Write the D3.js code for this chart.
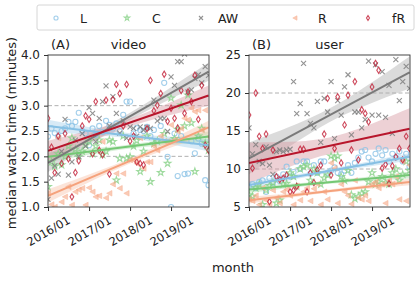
<!DOCTYPE html>
<html>
<head>
<meta charset="utf-8">
<script src="https://cdn.jsdelivr.net/npm/d3@7"></script>
<style>
  body { margin: 0; background: #fff; }
  text { font-family: "DejaVu Sans", sans-serif; fill: #222; }
</style>
</head>
<body>
<svg id="chart" width="420" height="281"></svg>
<script>
// monthly points, 2016/01 .. 2019/12
const months = d3.range(48).map(i => new Date(2016, i, 1));
const seriesNames = ["L", "C", "AW", "R", "fR"];
const xTickLabels = ["2016/01", "2017/01", "2018/01", "2019/01"];
const videoTicks = [1.0, 1.5, 2.0, 2.5, 3.0, 3.5, 4.0];
const userTicks = [5, 10, 15, 20, 25];

// (A) video
const videoL = [2.39,2.55,2.46,2.39,2.50,2.55,2.68,2.60,2.68,2.86,2.50,2.45,2.22,2.55,2.42,2.60,
  2.48,2.70,2.62,2.55,2.65,2.50,2.82,3.08,3.08,2.45,2.56,2.52,2.50,2.58,2.40,2.52,
  2.30,2.60,3.45,1.99,1.00,2.45,1.61,2.40,1.65,1.66,2.30,2.06,2.35,2.25,1.53,1.43];
const videoC = [1.40,1.89,1.80,2.05,1.83,1.99,2.20,2.36,2.14,2.00,2.10,2.22,2.30,2.05,2.20,2.32,
  2.03,2.10,2.32,2.29,1.53,1.96,2.40,1.96,1.99,2.20,2.31,1.70,2.10,2.40,1.50,2.25,
  2.30,1.68,2.45,1.86,3.15,2.35,2.53,3.01,2.60,3.21,2.66,1.70,2.40,2.55,2.26,2.12];
const videoAW = [1.15,1.57,1.81,1.65,2.10,2.73,1.63,1.89,2.32,2.00,2.45,2.20,2.96,2.85,2.29,2.75,
  3.08,3.39,2.60,3.18,2.85,2.46,2.70,2.36,2.58,2.55,2.40,2.58,2.52,2.57,2.55,3.11,
  2.70,2.75,2.75,2.49,3.57,3.40,3.87,3.87,4.02,3.27,3.31,3.54,3.61,3.45,3.77,3.60];
const videoR = [1.27,1.05,1.00,2.36,1.10,1.20,1.40,1.04,1.30,1.34,1.37,1.04,1.38,1.30,1.20,1.22,
  2.29,1.18,1.27,1.45,1.66,1.37,1.66,1.27,1.93,1.93,1.86,2.36,1.76,1.89,1.89,2.20,
  2.12,2.40,2.30,2.29,2.62,2.32,2.49,2.55,2.75,2.72,2.95,2.88,2.91,2.52,2.91,2.39];
const videoFR = [2.75,2.18,1.68,2.40,1.86,2.45,1.95,1.20,1.68,1.91,2.60,2.80,2.73,2.05,3.08,2.12,
  2.03,3.11,1.65,3.12,3.42,3.24,2.60,3.42,2.30,2.40,1.89,1.86,1.83,2.55,3.50,2.90,
  3.01,3.24,3.62,2.69,2.95,2.75,2.56,3.30,2.85,3.27,3.08,3.60,2.73,3.40,2.22,2.12];

// (B) user
const userL = [7.7,8.0,7.5,8.3,8.5,7.0,8.8,8.2,9.0,8.4,9.3,10.3,9.0,9.6,11.0,10.0,
  11.0,11.0,9.4,10.5,9.5,11.0,11.0,9.5,9.8,10.2,9.5,9.3,9.8,10.5,9.5,10.8,
  11.5,12.3,12.5,11.5,11.0,12.0,12.7,11.8,12.5,11.0,12.0,11.5,12.3,11.0,12.0,10.3];
const userC = [6.6,6.4,7.5,8.0,5.3,7.2,7.8,8.2,5.5,5.9,8.0,8.1,9.5,9.0,7.7,10.0,
  10.3,10.5,8.5,10.0,9.5,8.0,8.8,9.2,11.7,11.4,11.7,9.0,8.5,9.8,6.6,6.1,
  6.4,6.8,7.0,8.3,9.5,8.0,8.3,9.0,8.2,8.0,9.5,10.0,8.5,9.3,11.0,9.8];
const userAW = [15.4,12.0,13.2,11.0,10.7,12.9,10.5,9.3,12.3,12.5,12.3,12.5,12.6,21.5,17.3,18.6,
  23.9,17.3,16.0,15.4,18.9,13.5,19.3,17.5,21.5,14.0,19.0,17.1,20.8,22.4,14.5,17.5,
  17.5,15.4,16.5,24.2,17.1,23.7,17.1,22.8,16.8,21.0,14.7,24.4,19.0,21.5,23.5,20.6];
const userR = [6.0,5.8,6.5,5.3,7.5,5.9,5.3,7.2,6.2,5.5,7.0,7.3,6.5,5.3,7.8,5.9,
  7.0,7.5,5.8,7.4,8.0,5.3,7.0,6.0,10.8,10.1,5.5,8.0,7.0,6.5,5.4,8.5,
  6.2,6.0,6.5,5.8,8.0,8.3,7.5,8.0,5.5,8.5,8.0,9.0,6.0,11.0,5.8,10.5];
const userFR = [17.1,10.1,20.0,14.3,12.7,14.6,5.7,12.5,9.0,8.6,8.8,9.2,7.0,7.2,7.7,12.6,
  12.6,7.0,9.5,8.2,9.9,10.5,14.6,19.3,9.2,12.7,19.5,10.8,15.8,19.7,12.5,21.5,
  11.2,17.8,17.3,16.2,20.8,23.9,23.0,10.1,10.6,8.1,10.4,11.6,12.7,11.2,14.3,12.7];

// fitted trend lines (first month, last month) and confidence half-widths (ends, centre)
const videoFitStart = [2.60, 1.99, 1.87, 1.22, 2.11];
const videoFitEnd   = [2.22, 2.39, 3.67, 2.57, 3.20];
const videoBandEnd  = [0.12, 0.10, 0.18, 0.13, 0.20];
const videoBandMid  = [0.05, 0.04, 0.07, 0.05, 0.08];
const userFitStart  = [7.9, 7.3, 11.4, 5.9, 10.8];
const userFitEnd    = [11.6, 9.2, 22.7, 8.3, 15.3];
const userBandEnd   = [0.5, 0.45, 2.1, 0.45, 2.7];
const userBandMid   = [0.25, 0.2, 0.9, 0.2, 1.1];

const lineColors   = ["#86c0e4", "#74c874", "#7a7a7a", "#f5a27c", "#b8162c"];
const markerColors = ["#8cc3e6", "#86d186", "#7f7f7f", "#f7a886", "#c21d34"];
const bandColors   = ["#a6d0ea", "#a8dca8", "#b0b0b0", "#f9c4ab", "#d89aa2"];

const svg = d3.select("#chart");

function markerPath(name, s) {
  if (name === "C") return d3.symbol(d3.symbolStar, s * s * 2.2)();
  if (name === "AW") return `M${-s},${-s}L${s},${s}M${-s},${s}L${s},${-s}`;
  if (name === "R") return `M${-s * 1.1},0L${s},${-s * 1.1}L${s},${s * 1.1}Z`;
  if (name === "fR") return `M0,${-s * 1.25}L${s * 0.75},0L0,${s * 1.25}L${-s * 0.75},0Z`;
  return d3.symbol(d3.symbolCircle, s * s * 3.3)();
}
function styleMarker(sel, k) {
  const name = seriesNames[k];
  sel.attr("fill", name === "R" ? markerColors[k] : "none")
    .attr("fill-opacity", name === "R" ? 0.75 : null)
    .attr("stroke", markerColors[k])
    .attr("stroke-width", name === "R" ? 0.6 : 1.1)
    .attr("opacity", name === "AW" ? 0.85 : 0.8);
}

function panel(opts) {
  const { left, top, width, height, yDomain, yTicks, yFmt, series, fitStart, fitEnd,
          bandEnd, bandMid, dashes, tag, title, id } = opts;
  const x = d3.scaleTime()
    .domain([new Date(2016, 0, 1), new Date(2019, 11, 5)])
    .range([0, width]);
  const y = d3.scaleLinear().domain(yDomain).range([height, 0]);
  const g = svg.append("g").attr("transform", `translate(${left},${top})`);

  g.append("clipPath").attr("id", id).append("rect")
    .attr("width", width).attr("height", height);
  const plot = g.append("g").attr("clip-path", `url(#${id})`);

  dashes.forEach(v => {
    plot.append("line")
      .attr("x1", 0).attr("x2", width)
      .attr("y1", y(v)).attr("y2", y(v))
      .attr("stroke", "#b0b0b0").attr("stroke-width", 1)
      .attr("stroke-dasharray", "4,2.5");
  });

  // confidence bands
  const t0 = months[0], t1 = months[months.length - 1];
  const samples = d3.range(0, 1.0001, 0.05);
  series.forEach((_, k) => {
    const pts = samples.map(u => {
      const t = new Date(+t0 + u * (t1 - t0));
      const m = fitStart[k] + u * (fitEnd[k] - fitStart[k]);
      const r = (u - 0.5) / 0.5;
      const hw = Math.sqrt(bandMid[k] ** 2 + (bandEnd[k] ** 2 - bandMid[k] ** 2) * r * r);
      return { t, lo: m - hw, hi: m + hw };
    });
    plot.append("path").datum(pts)
      .attr("d", d3.area().x(d => x(d.t)).y0(d => y(d.lo)).y1(d => y(d.hi)))
      .attr("fill", bandColors[k]).attr("fill-opacity", 0.45);
  });

  // scatter points
  series.forEach((vals, k) => {
    const p = markerPath(seriesNames[k], 2.5);
    plot.append("g").selectAll("path")
      .data(vals.map((v, i) => ({ t: months[i], v })))
      .join("path")
      .attr("d", p)
      .attr("transform", d => `translate(${x(d.t)},${y(d.v)})`)
      .call(styleMarker, k);
  });

  // trend lines
  series.forEach((_, k) => {
    plot.append("line")
      .attr("x1", x(t0)).attr("y1", y(fitStart[k]))
      .attr("x2", x(t1)).attr("y2", y(fitEnd[k]))
      .attr("stroke", lineColors[k]).attr("stroke-width", 2);
  });

  g.append("rect").attr("width", width).attr("height", height)
    .attr("fill", "none").attr("stroke", "#333").attr("stroke-width", 0.9);

  const xAxis = g.append("g").attr("transform", `translate(0,${height})`)
    .call(d3.axisBottom(x)
      .tickValues(xTickLabels.map(s => new Date(+s.slice(0, 4), 0, 1)))
      .tickFormat((d, i) => xTickLabels[i])
      .tickSize(4));
  xAxis.select(".domain").remove();
  xAxis.selectAll("line").attr("stroke", "#333");
  xAxis.selectAll("text")
    .attr("font-size", 11.5).attr("fill", "#222")
    .attr("text-anchor", "middle")
    .attr("y", 0).attr("dy", "0.35em")
    .attr("transform", "translate(0,24) rotate(-30)");

  const yAxis = g.append("g")
    .call(d3.axisLeft(y).tickValues(yTicks).tickFormat(yFmt).tickSize(4));
  yAxis.select(".domain").remove();
  yAxis.selectAll("line").attr("stroke", "#333");
  yAxis.selectAll("text").attr("font-size", 12).attr("fill", "#222").attr("dx", "-1");

  g.append("text").attr("x", 3).attr("y", -6).attr("font-size", 13).text(tag);
  g.append("text").attr("x", width / 2).attr("y", -6)
    .attr("text-anchor", "middle").attr("font-size", 13).text(title);
}

panel({
  id: "clipA", left: 48, top: 55, width: 161, height: 152,
  yDomain: [1, 4], yTicks: videoTicks, yFmt: d3.format(".1f"),
  series: [videoL, videoC, videoAW, videoR, videoFR],
  fitStart: videoFitStart, fitEnd: videoFitEnd, bandEnd: videoBandEnd, bandMid: videoBandMid,
  dashes: [2, 3], tag: "(A)", title: "video"
});
panel({
  id: "clipB", left: 249, top: 55, width: 161, height: 152,
  yDomain: [5, 25], yTicks: userTicks, yFmt: d3.format("d"),
  series: [userL, userC, userAW, userR, userFR],
  fitStart: userFitStart, fitEnd: userFitEnd, bandEnd: userBandEnd, bandMid: userBandMid,
  dashes: [10, 20], tag: "(B)", title: "user"
});

// axis titles
svg.append("text")
  .attr("transform", "translate(16,133) rotate(-90)")
  .attr("text-anchor", "middle").attr("font-size", 13)
  .text("median watch time (minutes)");
svg.append("text").attr("x", 233).attr("y", 272)
  .attr("text-anchor", "middle").attr("font-size", 13).text("month");

// legend
const legend = svg.append("g");
legend.append("rect")
  .attr("x", 37).attr("y", 5).attr("width", 377).attr("height", 25).attr("rx", 2)
  .attr("fill", "#fff").attr("stroke", "#d6d6d6").attr("stroke-width", 1);
const legendMarkX = [56, 127, 201, 295, 368];
const legendTextX = [80, 152, 218, 318, 392];
seriesNames.forEach((name, k) => {
  legend.append("path")
    .attr("d", markerPath(name, 2.0))
    .attr("transform", `translate(${legendMarkX[k]},18)`)
    .call(styleMarker, k);
  legend.append("text")
    .attr("x", legendTextX[k]).attr("y", 22.5)
    .attr("font-size", 12.5).text(name);
});
</script>
</body>
</html>
